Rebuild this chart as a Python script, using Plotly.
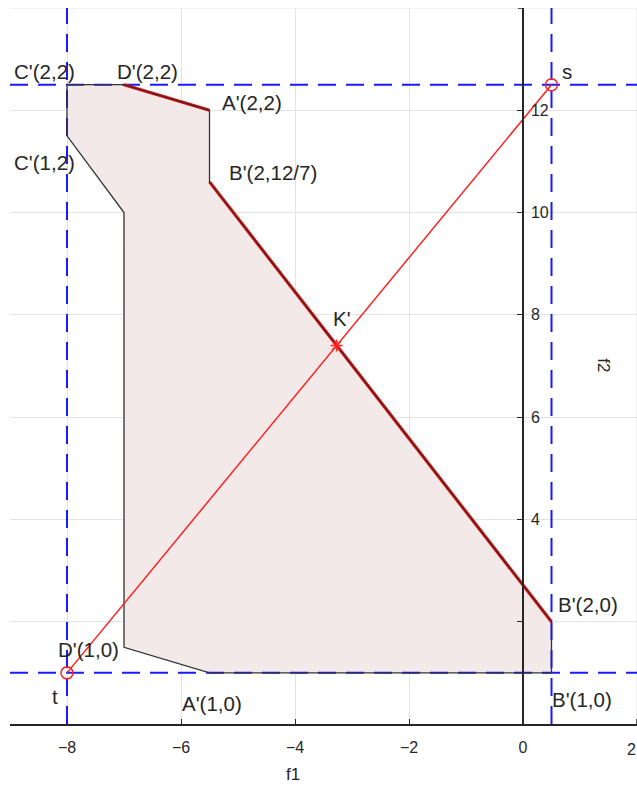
import plotly.graph_objects as go

# Feasible region in the (f1, f2) objective plane
region_f1 = [-8, -7, -5.5, -5.5, 0.5, 0.5, -5.5, -7, -7, -8, -8]
region_f2 = [12.5, 12.5, 12, 10.6, 2, 1, 1, 1.5, 10, 11.5, 12.5]

# Pareto edges (highlighted)
front1_f1 = [-7, -5.5]
front1_f2 = [12.5, 12]
front2_f1 = [-5.5, 0.5]
front2_f2 = [10.6, 2]

# Reference points
s_pt = (0.5, 12.5)
t_pt = (-8, 1)
k_pt = (-3.27, 7.40)

# Vertex labels: text, f1, f2
labels = [
    ("C'(2,2)", -8.39, 12.75),
    ("D'(2,2)", -6.58, 12.75),
    ("A'(2,2)", -4.75, 12.16),
    ("C'(1,2)", -8.39, 10.97),
    ("B'(2,12/7)", -4.39, 10.79),
    ("K'", -3.18, 7.92),
    ("s", 0.77, 12.75),
    ("B'(2,0)", 1.14, 2.33),
    ("D'(1,0)", -7.63, 1.45),
    ("t", -8.21, 0.53),
    ("A'(1,0)", -5.46, 0.41),
    ("B'(1,0)", 1.04, 0.47),
]

x_range = [-9, 2]
y_range = [0, 14]
x_ticks = [-8, -6, -4, -2, 0]
y_ticks = [2, 4, 6, 8, 10, 12]
y_ticktext = ["", "4", "6", "8", "10", "12"]

TEXT = "#262626"
GRID = "#e3e3e3"
FONT = "Liberation Sans, Arial, Helvetica, sans-serif"

fig = go.Figure()

# shaded region
fig.add_trace(go.Scatter(
    x=region_f1, y=region_f2, mode="lines", fill="toself",
    fillcolor="#f3e9e9", line=dict(color="rgba(0,0,0,0)", width=0),
    hoverinfo="skip"))

# dashed guide lines through s and t
for xv in (t_pt[0], s_pt[0]):
    fig.add_trace(go.Scatter(x=[xv, xv], y=y_range, mode="lines",
                             line=dict(color="#1a1aff", width=2, dash="18px,10px")))
for yv in (s_pt[1], t_pt[1]):
    fig.add_trace(go.Scatter(x=x_range, y=[yv, yv], mode="lines",
                             line=dict(color="#1a1aff", width=2, dash="18px,10px")))

# highlighted edges
for fx, fy in ((front1_f1, front1_f2), (front2_f1, front2_f2)):
    fig.add_trace(go.Scatter(x=fx, y=fy, mode="lines",
                             line=dict(color="#ff0000", width=3.2)))

# region outline
fig.add_trace(go.Scatter(x=region_f1, y=region_f2, mode="lines",
                         line=dict(color="#333333", width=1.3)))

# line from t to s
fig.add_trace(go.Scatter(x=[t_pt[0], s_pt[0]], y=[t_pt[1], s_pt[1]], mode="lines",
                         line=dict(color="#ff2020", width=1.5)))

# markers
fig.add_trace(go.Scatter(x=[t_pt[0], s_pt[0]], y=[t_pt[1], s_pt[1]], mode="markers",
                         marker=dict(symbol="circle-open", size=12, color="#ff2020",
                                     line=dict(width=1.5))))
fig.add_trace(go.Scatter(x=[k_pt[0]], y=[k_pt[1]], mode="markers",
                         marker=dict(symbol="asterisk-open", size=10, color="#ff2020",
                                     line=dict(width=1.5, color="#ff2020"))))

for txt, lx, ly in labels:
    fig.add_annotation(x=lx, y=ly, text=txt, showarrow=False,
                       font=dict(family=FONT, size=20.5, color=TEXT),
                       xanchor="center", yanchor="middle")

# outer grid lines at the upper and right limits
fig.add_shape(type="line", x0=x_range[0], x1=x_range[1], y0=y_range[1], y1=y_range[1],
              line=dict(color=GRID, width=1), layer="below")
fig.add_shape(type="line", x0=x_range[1], x1=x_range[1], y0=y_range[0], y1=y_range[1],
              line=dict(color=GRID, width=1), layer="below")
# small tick marks at the axis ends
fig.add_shape(type="line", x0=0, x1=-0.09, y0=y_range[1], y1=y_range[1],
              line=dict(color=TEXT, width=1.5))
fig.add_shape(type="line", x0=x_range[1], x1=x_range[1], y0=0, y1=0.1,
              line=dict(color=TEXT, width=1.5))
# tick label at the right limit
fig.add_annotation(x=x_range[1], y=-0.035, yref="paper", text="2", showarrow=False,
                   xanchor="right", xshift=1,
                   font=dict(family=FONT, size=16, color=TEXT), yanchor="middle")

# axis titles
fig.add_annotation(x=-4.03, y=-0.071, xref="x", yref="paper", text="f1",
                   yanchor="middle", showarrow=False,
                   font=dict(family=FONT, size=17, color=TEXT))
fig.add_annotation(x=1.40, y=7.02, text="f2", textangle=90, showarrow=False,
                   font=dict(family=FONT, size=17, color=TEXT))

fig.update_layout(
    width=637, height=787,
    margin=dict(l=10, r=0, t=8, b=63),
    paper_bgcolor="white", plot_bgcolor="white",
    showlegend=False,
    xaxis=dict(range=x_range, tickvals=x_ticks, showgrid=True, gridcolor=GRID,
               gridwidth=1, zeroline=False, showline=True, linecolor=TEXT, linewidth=1.5,
               ticks="inside", ticklen=5, tickcolor=TEXT, ticklabelstandoff=8,
               tickfont=dict(family=FONT, size=16, color=TEXT)),
    yaxis=dict(range=y_range, tickvals=y_ticks, ticktext=y_ticktext,
               showgrid=True, gridcolor=GRID, gridwidth=1, zeroline=False,
               showline=True, linecolor=TEXT, linewidth=1.5,
               anchor="free", position=9 / 11, side="right",
               ticks="inside", ticklen=5, tickcolor=TEXT, ticklabelstandoff=4,
               tickfont=dict(family=FONT, size=16, color=TEXT)),
)

fig.write_html("out.html")
